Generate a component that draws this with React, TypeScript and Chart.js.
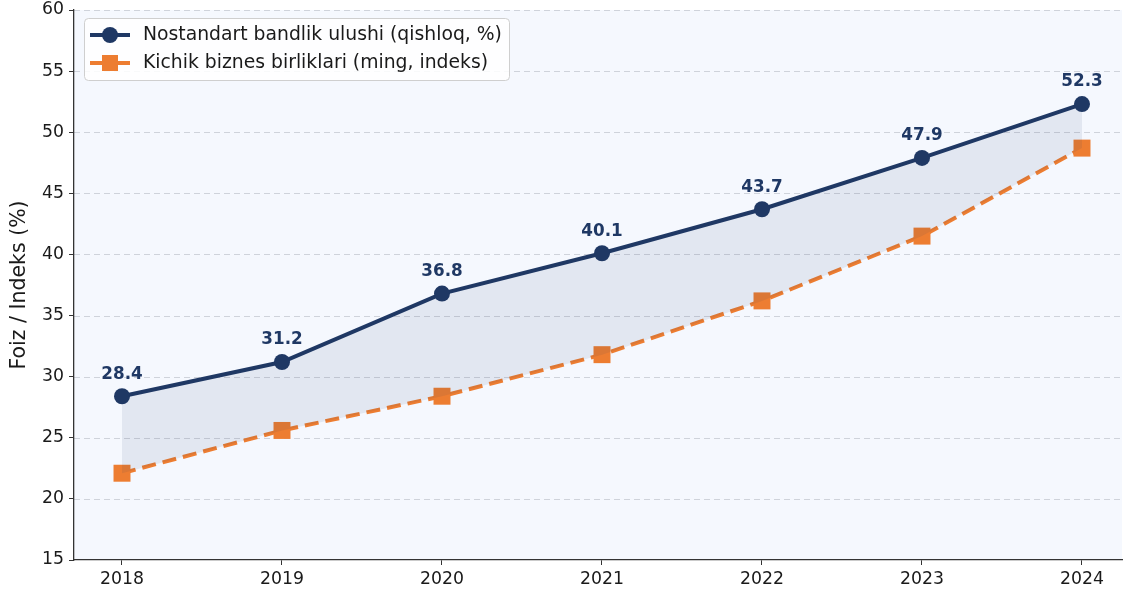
import React, { useEffect, useRef } from "react";
import { Chart, registerables } from "chart.js";

Chart.register(...registerables);

const years = [2018, 2019, 2020, 2021, 2022, 2023, 2024];
const informalShare = [28.4, 31.2, 36.8, 40.1, 43.7, 47.9, 52.3];
const smallBusiness = [22.1, 25.6, 28.4, 31.8, 36.2, 41.5, 48.7];
const seriesNames = [
  "Nostandart bandlik ulushi (qishloq, %)",
  "Kichik biznes birliklari (ming, indeks)",
];
const yTicks = [15, 20, 25, 30, 35, 40, 45, 50, 55, 60];
const yTitle = "Foiz / Indeks (%)";

const NAVY = "#1f3864";
const ORANGE = "#ed7d31";
const FONT = "'DejaVu Sans', sans-serif";
const TICK_SIZE = 17.3;

const bgPlugin = {
  id: "bgPlugin",
  beforeDraw(chart: any) {
    const { ctx, chartArea } = chart;
    ctx.save();
    ctx.fillStyle = "#ffffff";
    ctx.fillRect(0, 0, chart.width, chart.height);
    ctx.fillStyle = "#f5f8fe";
    ctx.fillRect(chartArea.left, chartArea.top, chartArea.right - chartArea.left, chartArea.bottom - chartArea.top);
    const ys = chart.scales.y;
    ctx.strokeStyle = "rgba(175,180,190,0.55)";
    ctx.lineWidth = 1;
    ctx.setLineDash([6, 4]);
    yTicks.forEach((v) => {
      if (v === yTicks[0]) return;
      const py = Math.round(ys.getPixelForValue(v)) + 0.5;
      ctx.beginPath();
      ctx.moveTo(chartArea.left, py);
      ctx.lineTo(chartArea.right, py);
      ctx.stroke();
    });
    ctx.restore();
  },
};

const labelPlugin = {
  id: "labelPlugin",
  afterDatasetsDraw(chart: any) {
    const { ctx } = chart;
    const meta = chart.getDatasetMeta(0);
    ctx.save();
    ctx.font = `bold 16.8px ${FONT}`;
    ctx.fillStyle = NAVY;
    ctx.textAlign = "center";
    ctx.textBaseline = "middle";
    meta.data.forEach((pt: any, i: number) => {
      ctx.fillText(informalShare[i].toFixed(1), pt.x, pt.y - 22);
    });
    const xs = chart.scales.x;
    ctx.font = `${TICK_SIZE}px ${FONT}`;
    ctx.fillStyle = "#1a1a1a";
    years.forEach((yr) => {
      ctx.fillText(String(yr), xs.getPixelForValue(yr), chart.chartArea.bottom + 20);
    });
    ctx.restore();
  },
};

const legendPlugin = {
  id: "legendPlugin",
  afterDraw(chart: any) {
    const { ctx } = chart;
    ctx.save();
    const x = 84.5, y = 18.5, w = 425, h = 62, r = 4;
    ctx.beginPath();
    ctx.roundRect(x, y, w, h, r);
    ctx.fillStyle = "rgba(255,255,255,0.85)";
    ctx.fill();
    ctx.strokeStyle = "#cfcfcf";
    ctx.lineWidth = 1;
    ctx.stroke();

    let ry = 35;
    ctx.strokeStyle = NAVY;
    ctx.lineWidth = 4;
    ctx.setLineDash([]);
    ctx.beginPath();
    ctx.moveTo(90, ry);
    ctx.lineTo(130, ry);
    ctx.stroke();
    ctx.fillStyle = NAVY;
    ctx.beginPath();
    ctx.arc(110, ry, 8, 0, Math.PI * 2);
    ctx.fill();

    ry = 63;
    ctx.strokeStyle = ORANGE;
    ctx.beginPath();
    ctx.moveTo(90, ry);
    ctx.lineTo(130, ry);
    ctx.stroke();
    ctx.fillStyle = ORANGE;
    ctx.fillRect(110 - 8, ry - 8, 16, 16);

    ctx.fillStyle = "#1a1a1a";
    ctx.font = `18.8px ${FONT}`;
    ctx.textAlign = "left";
    ctx.textBaseline = "middle";
    ctx.fillText(seriesNames[0], 143, 35);
    ctx.fillText(seriesNames[1], 143, 63);
    ctx.restore();
  },
};

export default function App() {
  const ref = useRef<HTMLCanvasElement | null>(null);
  useEffect(() => {
    document.body.style.margin = "0";
    const canvas = ref.current!;
    const chart = new Chart(canvas, {
      type: "line",
      data: {
        datasets: [
          {
            label: seriesNames[0],
            data: years.map((yr, i) => ({ x: yr, y: informalShare[i] })),
            borderColor: NAVY,
            backgroundColor: "rgba(31,56,100,0.085)",
            borderWidth: 4,
            pointRadius: 8,
            pointBackgroundColor: NAVY,
            pointBorderColor: NAVY,
            pointBorderWidth: 0,
            pointStyle: "circle",
            fill: "+1",
            tension: 0,
          },
          {
            label: seriesNames[1],
            data: years.map((yr, i) => ({ x: yr, y: smallBusiness[i] })),
            borderColor: ORANGE,
            backgroundColor: ORANGE,
            borderWidth: 4,
            borderDash: [14, 7],
            pointRadius: 12,
            pointBackgroundColor: ORANGE,
            pointBorderColor: ORANGE,
            pointBorderWidth: 0,
            pointStyle: "rect",
            fill: false,
            tension: 0,
          },
        ],
      },
      options: {
        animation: false,
        responsive: false,
        layout: { autoPadding: false, padding: { top: 10, right: 1, left: 0, bottom: 0 } },
        plugins: { legend: { display: false }, tooltip: { enabled: false } },
        scales: {
          x: {
            type: "linear",
            min: 2017.7,
            max: 2024.25,
            afterFit: (s: any) => { s.height = 32; s.paddingLeft = 0; s.paddingRight = 0; },
            afterBuildTicks: (s: any) => { s.ticks = years.map((v) => ({ value: v })); },
            grid: {
              drawOnChartArea: false,
              drawTicks: true,
              tickLength: 5,
              tickColor: "#333333",
              tickWidth: 1,
            },
            border: { display: true, color: "#333333", width: 1.3 },
            ticks: { display: false },
          },
          y: {
            min: 15,
            max: 60,
            afterFit: (s: any) => { s.width = 74; s.paddingTop = 0; s.paddingBottom = 0; },
            afterBuildTicks: (s: any) => { s.ticks = yTicks.map((v) => ({ value: v })); },
            grid: {
              drawOnChartArea: false,
              tickLength: 5,
              tickColor: "#333333",
              tickWidth: 1,
            },
            border: { display: true, color: "#333333", width: 1.3 },
            ticks: {
              color: "#1a1a1a",
              font: { family: FONT, size: TICK_SIZE },
              padding: 5,
              callback: (v: any) => String(v),
            },
            title: {
              display: true,
              text: yTitle,
              color: "#1a1a1a",
              font: { family: FONT, size: 20.5 },
              padding: { top: 7, bottom: 4 },
            },
          },
        },
      },
      plugins: [bgPlugin, labelPlugin, legendPlugin],
    } as any);
    return () => chart.destroy();
  }, []);
  return <canvas ref={ref} width={1123} height={592} style={{ display: "block" }} />;
}
